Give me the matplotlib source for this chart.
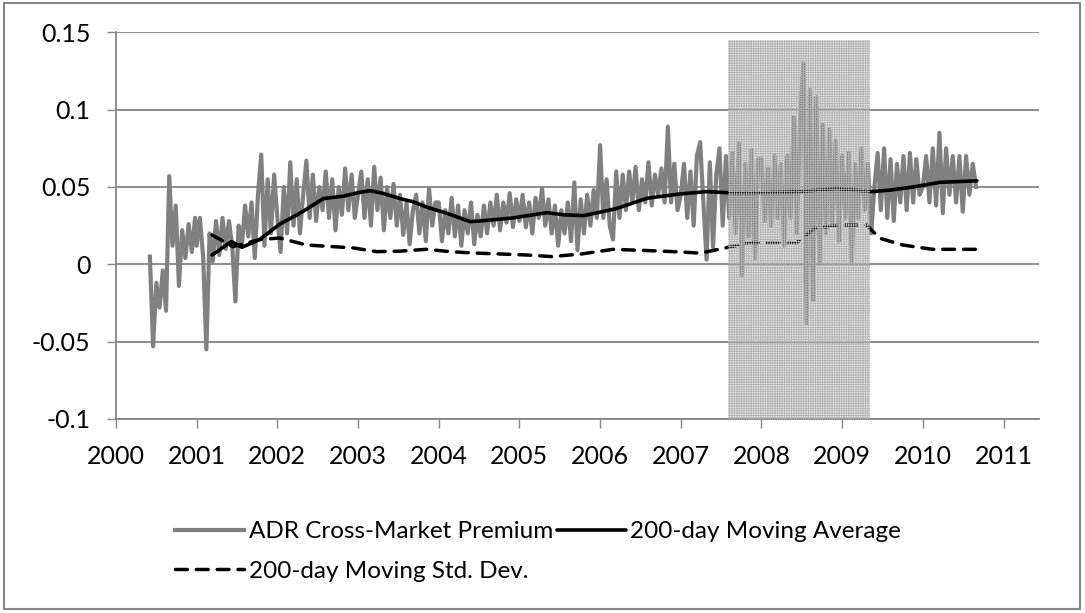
import numpy as np
import matplotlib
matplotlib.use("Agg")
import matplotlib.pyplot as plt
from matplotlib.patches import Rectangle

plt.rcParams['font.family'] = ['Lato', 'DejaVu Sans']
plt.rcParams['hatch.linewidth'] = 0.6
plt.rcParams['hatch.color'] = '#b4b4b4'

# ADR cross-market premium (one block per year)
block_start = [2000.42, 2001.0, 2002.0, 2003.0, 2004.0, 2005.0, 2006.0, 2007.0, 2008.0, 2009.0, 2010.0]
block_end = [2000.98, 2001.96, 2002.96, 2003.96, 2004.96, 2005.96, 2006.96, 2007.96, 2008.96, 2009.96, 2010.66]

prem_2000 = [0.005, -0.053, -0.012, -0.028, -0.004, -0.03, 0.057, 0.012, 0.038, -0.014,
             0.022, 0.004, 0.026, 0.008, 0.03]
prem_2001 = [0.012, 0.03, 0.005, -0.055, 0.02, 0.002, 0.028, 0.006, 0.03, 0.01,
             0.028, 0.012, -0.024, 0.025, 0.012, 0.038, 0.018, 0.04, 0.004, 0.045,
             0.071, 0.012, 0.055, 0.02, 0.058]
prem_2002 = [0.03, 0.008, 0.05, 0.02, 0.066, 0.025, 0.055, 0.02, 0.045, 0.067,
             0.03, 0.058, 0.028, 0.05, 0.035, 0.06, 0.03, 0.055, 0.022, 0.05,
             0.032, 0.062, 0.035, 0.058, 0.03]
prem_2003 = [0.045, 0.06, 0.03, 0.055, 0.025, 0.063, 0.035, 0.056, 0.022, 0.05,
             0.03, 0.052, 0.025, 0.045, 0.019, 0.04, 0.013, 0.035, 0.045, 0.02,
             0.04, 0.015, 0.049, 0.025, 0.04]
prem_2004 = [0.04, 0.015, 0.035, 0.02, 0.043, 0.018, 0.038, 0.012, 0.035, 0.02,
             0.04, 0.013, 0.032, 0.018, 0.038, 0.02, 0.04, 0.025, 0.045, 0.022,
             0.04, 0.027, 0.046, 0.024, 0.042]
prem_2005 = [0.028, 0.045, 0.024, 0.04, 0.02, 0.043, 0.03, 0.049, 0.025, 0.042,
             0.02, 0.038, 0.012, 0.035, 0.02, 0.04, 0.015, 0.053, 0.009, 0.042,
             0.02, 0.045, 0.025, 0.048, 0.03]
prem_2006 = [0.077, 0.03, 0.055, 0.025, 0.016, 0.06, 0.03, 0.058, 0.035, 0.06,
             0.04, 0.063, 0.035, 0.055, 0.04, 0.066, 0.038, 0.058, 0.045, 0.062,
             0.04, 0.089, 0.04, 0.065, 0.035]
prem_2007 = [0.045, 0.065, 0.03, 0.06, 0.025, 0.07, 0.079, 0.04, 0.003, 0.066,
             0.011, 0.058, 0.075, 0.025, 0.07, 0.03, 0.072, 0.02, 0.078, -0.007,
             0.065, 0.018, 0.074, 0.004, 0.068]
prem_2008 = [0.068, 0.028, 0.062, 0.025, 0.07, 0.03, 0.065, 0.012, 0.07, 0.03,
             0.095, 0.02, 0.095, 0.13, -0.038, 0.113, -0.023, 0.108, 0.0, 0.09,
             0.02, 0.087, 0.025, 0.08, 0.015]
prem_2009 = [0.07, 0.03, 0.072, 0.001, 0.065, 0.03, 0.075, 0.035, 0.065, 0.02,
             0.05, 0.072, 0.035, 0.075, 0.03, 0.068, 0.028, 0.065, 0.04, 0.07,
             0.035, 0.072, 0.04, 0.068, 0.045]
prem_2010 = [0.05, 0.07, 0.04, 0.075, 0.038, 0.085, 0.033, 0.075, 0.045, 0.07,
             0.04, 0.07, 0.034, 0.07, 0.045, 0.065, 0.05]

premium_blocks = [prem_2000, prem_2001, prem_2002, prem_2003, prem_2004, prem_2005,
                  prem_2006, prem_2007, prem_2008, prem_2009, prem_2010]

# 200-day moving average
ma_years = [2001.19, 2001.43, 2001.56, 2001.78, 2002.03, 2002.28, 2002.57, 2002.81, 2003.02,
            2003.15, 2003.3, 2003.52, 2003.68, 2003.85, 2004.1, 2004.39, 2004.51, 2004.92,
            2005.34, 2005.55, 2005.8, 2006.2, 2006.58, 2006.99, 2007.32, 2007.7, 2008.07,
            2008.48, 2008.93, 2009.37, 2009.6, 2009.88, 2010.21, 2010.67]
ma_vals = [0.006, 0.0147, 0.011, 0.016, 0.026, 0.033, 0.0425, 0.044, 0.0465,
           0.0476, 0.046, 0.0425, 0.0405, 0.037, 0.033, 0.0276, 0.028, 0.030,
           0.0334, 0.032, 0.0315, 0.036, 0.0427, 0.0455, 0.047, 0.046, 0.0463,
           0.047, 0.049, 0.047, 0.048, 0.050, 0.053, 0.054]

# 200-day moving standard deviation
sd_years = [2001.19, 2001.45, 2001.78, 2002.03, 2002.36, 2002.94, 2003.23, 2003.52, 2003.85,
            2004.14, 2004.43, 2004.76, 2005.1, 2005.4, 2005.77, 2006.16, 2006.58, 2007.0,
            2007.24, 2007.57, 2007.86, 2008.44, 2008.66, 2008.97, 2009.3, 2009.47, 2009.75,
            2010.12, 2010.67]
sd_vals = [0.019, 0.0114, 0.016, 0.017, 0.0125, 0.0106, 0.0082, 0.0085, 0.0097,
           0.0082, 0.0073, 0.0067, 0.006, 0.005, 0.0067, 0.0097, 0.0089, 0.008,
           0.0072, 0.0108, 0.014, 0.014, 0.0233, 0.0254, 0.0254, 0.0168, 0.0125,
           0.0097, 0.0097]

# crisis shading
crisis_start = 2007.59
crisis_end = 2009.35
crisis_top = 0.145

years = list(range(2000, 2012))

prem_x = np.concatenate([np.linspace(s, e, len(b)) for s, e, b in zip(block_start, block_end, premium_blocks)])
prem_y = np.concatenate([np.array(b) for b in premium_blocks])

grey = '#868686'
fig = plt.figure(figsize=(10.85, 6.13), dpi=100)
ax = fig.add_axes([116 / 1085, 1 - 419 / 613, (1039 - 116) / 1085, (419 - 32.3) / 613])

ax.add_patch(Rectangle((crisis_start, -0.1), crisis_end - crisis_start, crisis_top + 0.1,
                       facecolor='#e4e4e4', edgecolor='none', zorder=0.5))
l_prem, = ax.plot(prem_x, prem_y, color='#808080', lw=3.0, zorder=2)
l_ma, = ax.plot(ma_years, ma_vals, color='black', lw=2.6, zorder=3, solid_capstyle='round')
l_sd, = ax.plot(sd_years, sd_vals, color='black', lw=2.5, zorder=3, linestyle=(0, (3.4, 2.6)),
                dash_capstyle='round')
ax.add_patch(Rectangle((crisis_start, -0.1), crisis_end - crisis_start, crisis_top + 0.1,
                       facecolor='none', edgecolor='#b4b4b4', linewidth=0, hatch='+' * 7,
                       zorder=4))

ax.set_xlim(2000, 2011.44)
ax.set_ylim(-0.1, 0.15)
ax.set_xticks(years)
ax.set_xticklabels([str(y) for y in years])
ax.set_yticks([-0.1, -0.05, 0, 0.05, 0.1, 0.15])
ax.set_yticklabels(['-0.1', '-0.05', '0', '0.05', '0.1', '0.15'])
ax.yaxis.grid(True, color=grey, lw=1.3, zorder=0)
ax.set_axisbelow(True)
for side in ['top', 'right']:
    ax.spines[side].set_visible(False)
for side in ['left', 'bottom']:
    ax.spines[side].set_color(grey)
    ax.spines[side].set_linewidth(1.3)
ax.tick_params(axis='both', direction='out', length=6.5, width=1.0, color=grey,
               labelsize=18, labelcolor='black')
ax.tick_params(axis='y', pad=12)
ax.tick_params(axis='x', pad=12)

# column-major fill: ADR + Std. Dev. in the first column, Moving Average in the second
fig.legend([l_prem, l_sd, l_ma],
           ['ADR Cross-Market Premium', '200-day Moving Std. Dev.', '200-day Moving Average'],
           ncol=2, loc='center left', bbox_to_anchor=(175 / 1085, 1 - 551.5 / 613),
           frameon=False, fontsize=17.5, handlelength=2.85, handletextpad=0.18,
           columnspacing=0.15, labelspacing=0.75, borderpad=0, borderaxespad=0)

fig.add_artist(Rectangle((4 / 1085, 4 / 613), 1076 / 1085, 606 / 613, transform=fig.transFigure,
                         facecolor='none', edgecolor=grey, lw=1.5))

fig.savefig('out.png', dpi=100)
